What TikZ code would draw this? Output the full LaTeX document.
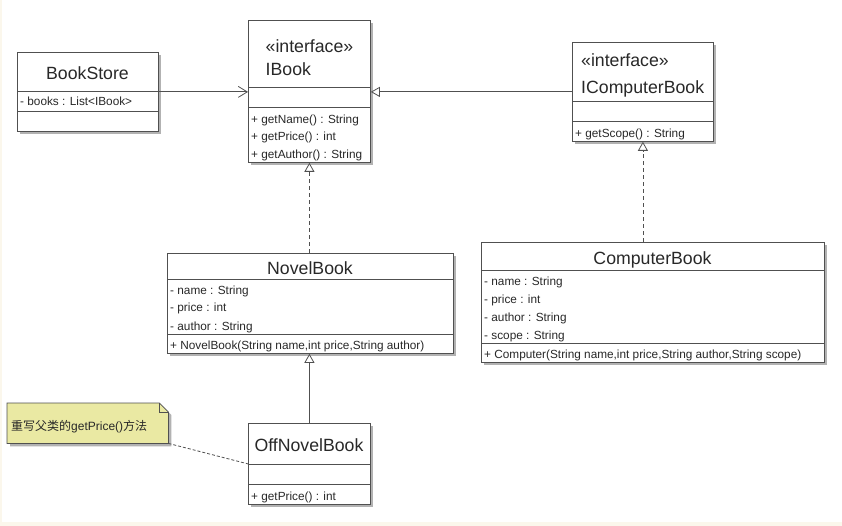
\documentclass[tikz,border=0pt]{standalone}
\usepackage{fontspec}
\setmainfont{Liberation Sans}
\newfontfamily\cjk{Noto Sans CJK SC}
\usetikzlibrary{arrows.meta,shadows}
\definecolor{ln}{RGB}{80,80,80}
\definecolor{tx}{RGB}{40,40,40}
\definecolor{notefill}{RGB}{234,233,163}
\definecolor{cream}{RGB}{251,247,236}
\definecolor{shd}{RGB}{178,178,178}
\begin{document}
\begin{tikzpicture}[x=1pt,y=-1pt,
  cls/.style={draw=ln, line width=0.8pt, fill=white, inner sep=0pt, anchor=north west,
    drop shadow={shadow xshift=3pt, shadow yshift=-3pt, fill=shd, opacity=1}},
  cline/.style={draw=ln, line width=0.8pt},
  ttl/.style={inner sep=0pt, anchor=base, text=tx, font=\fontsize{17.7}{20}\selectfont},
  ttlw/.style={inner sep=0pt, anchor=base west, text=tx, font=\fontsize{17.7}{20}\selectfont},
  itm/.style={inner sep=0pt, anchor=base west, text=tx, font=\fontsize{11.8}{14}\selectfont},
  conn/.style={draw=ln, line width=0.8pt},
  dsh/.style={dash pattern=on 4pt off 3pt},
  fdsh/.style={dash pattern=on 3pt off 2pt},
  tri/.style={-{Triangle[open,length=9pt,width=10pt,fill=white]}},
  barb/.style={-{Straight Barb[length=9pt,width=11pt]}}
]
\useasboundingbox (0,0) rectangle (842,526);
\fill[cream] (0,0) rectangle (842,526);
\fill[white] (2,0) rectangle (842,522);

% BookStore
\node[cls, minimum width=141pt, minimum height=79pt] (bookstore) at (17,52) {};
\draw[cline] (17,91) -- (158,91);
\draw[cline] (17,111) -- (158,111);
\node[ttl] (bsT) at (87.5,80) {BookStore};
\node[itm] (bsA) at (20,106) {- books : List<IBook>};

% IBook
\node[cls, minimum width=122pt, minimum height=142pt] (ibook) at (248,20) {};
\draw[cline] (248,87) -- (370,87);
\draw[cline] (248,107) -- (370,107);
\node[ttlw] (ibS) at (265.5,52.3) {«interface»};
\node[ttlw] (ibT) at (265.5,76) {IBook};
\node[itm] (ibM1) at (251,123.3) {+ getName() : String};
\node[itm] (ibM2) at (251,141) {+ getPrice() : int};
\node[itm] (ibM3) at (251,158.7) {+ getAuthor() : String};

% IComputerBook
\node[cls, minimum width=141pt, minimum height=99pt] (icb) at (572,42) {};
\draw[cline] (572,101) -- (713,101);
\draw[cline] (572,121) -- (713,121);
\node[ttlw] (icbS) at (581,66.7) {«interface»};
\node[ttlw] (icbT) at (581,94) {IComputerBook};
\node[itm] (icbM) at (575,137.3) {+ getScope() : String};

% NovelBook
\node[cls, minimum width=286pt, minimum height=100pt] (novel) at (167,253) {};
\draw[cline] (167,279) -- (453,279);
\draw[cline] (167,334) -- (453,334);
\node[ttl] (nbT) at (310,275) {NovelBook};
\node[itm] (nbA1) at (170,294.3) {- name : String};
\node[itm] (nbA2) at (170,311.7) {- price : int};
\node[itm] (nbA3) at (170,330) {- author : String};
\node[itm] (nbM) at (170,349.3) {+ NovelBook(String name,int price,String author)};

% ComputerBook
\node[cls, minimum width=343pt, minimum height=120pt] (cbook) at (481,242) {};
\draw[cline] (481,270) -- (824,270);
\draw[cline] (481,343) -- (824,343);
\node[ttl] (cbT) at (652.5,265) {ComputerBook};
\node[itm] (cbA1) at (484,285.7) {- name : String};
\node[itm] (cbA2) at (484,303.3) {- price : int};
\node[itm] (cbA3) at (484,321.7) {- author : String};
\node[itm] (cbA4) at (484,339.3) {- scope : String};
\node[itm] (cbM) at (484,358.3) {+ Computer(String name,int price,String author,String scope)};

% OffNovelBook
\node[cls, minimum width=122pt, minimum height=81pt] (offnovel) at (248,423) {};
\draw[cline] (248,464) -- (370,464);
\draw[cline] (248,484) -- (370,484);
\node[ttl] (onT) at (309,451.7) {OffNovelBook};
\node[itm] (onM) at (251,500) {+ getPrice() : int};

% Note
\node[inner sep=0pt, minimum width=161pt, minimum height=40pt, anchor=north west] (note) at (7,403) {};
\fill[shd] ([shift={(3pt,-3pt)}]note.north west) -- ([shift={(-6pt,-3pt)}]note.north east)
  -- ([shift={(3pt,-12pt)}]note.north east) -- ([shift={(3pt,-3pt)}]note.south east)
  -- ([shift={(3pt,-3pt)}]note.south west) -- cycle;
\filldraw[fill=notefill, draw=ln, line width=0.8pt] (note.north west) -- ([xshift=-9pt]note.north east)
  -- ([yshift=-9pt]note.north east) -- (note.south east) -- (note.south west) -- cycle;
\draw[ln, line width=0.6pt] ([xshift=-9pt]note.north east) |- ([yshift=-9pt]note.north east);
\node[inner sep=0pt, anchor=base west, text=tx, font=\fontsize{12}{14}\selectfont] (noteT) at (11,430)
  {{\cjk 重写父类的}getPrice(){\cjk 方法}};

% Connectors
\draw[conn, barb] (bookstore.east) -- (bookstore.east -| ibook.west);
\draw[conn, tri] (icb.west) -- (icb.west -| ibook.east);
\draw[conn, dsh, tri] (ibook.south |- novel.north) -- (ibook.south);
\draw[conn, dsh, tri] (icb.south |- cbook.north) -- (icb.south);
\draw[conn, tri] (offnovel.north) -- (offnovel.north |- novel.south);
\draw[conn, fdsh] (note.south east) -- (offnovel.west);
\end{tikzpicture}
\end{document}
